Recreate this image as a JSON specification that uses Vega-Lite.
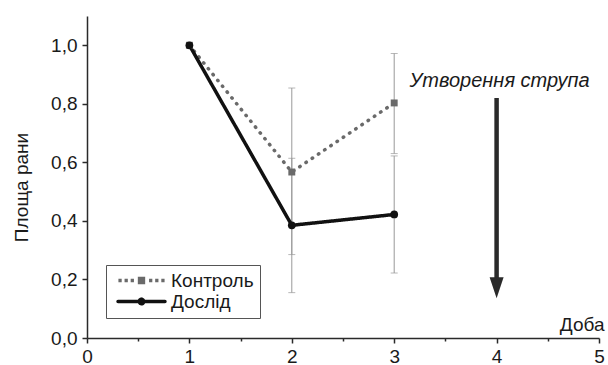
{
  "$schema": "https://vega.github.io/schema/vega-lite/v6.json",
  "width": 512,
  "height": 322,
  "autosize": {"type": "none"},
  "padding": {"left": 87, "top": 16, "right": 9, "bottom": 27},
  "background": "white",
  "config": {
    "view": {"stroke": null},
    "font": "Liberation Sans",
    "axis": {
      "domainColor": "#2a2a2a",
      "domainWidth": 1.5,
      "tickColor": "#2a2a2a",
      "tickWidth": 1.5,
      "labelColor": "#1a1a1a",
      "labelFont": "Liberation Sans",
      "labelFontSize": 19,
      "titleFont": "Liberation Sans",
      "titleFontSize": 19,
      "titleFontWeight": "normal",
      "titleColor": "#1a1a1a",
      "grid": false
    }
  },
  "datasets": {
    "series": [
      {"day": 1, "group": "Контроль", "area": 1.0, "lo": null, "hi": null},
      {"day": 2, "group": "Контроль", "area": 0.567, "lo": 0.285, "hi": 0.854},
      {"day": 3, "group": "Контроль", "area": 0.803, "lo": 0.63, "hi": 0.972},
      {"day": 1, "group": "Дослід", "area": 1.0, "lo": null, "hi": null},
      {"day": 2, "group": "Дослід", "area": 0.385, "lo": 0.155, "hi": 0.614},
      {"day": 3, "group": "Дослід", "area": 0.422, "lo": 0.222, "hi": 0.622}
    ],
    "arrow": [{"day": 4, "top": 0.82, "bottom": 0.2, "head": 0.172, "label": "Утворення струпа", "labelY": 0.857}]
  },
  "layer": [
    {
      "data": {"name": "series"},
      "transform": [{"filter": "datum.lo != null"}],
      "mark": {"type": "errorbar", "color": "#999999", "thickness": 1, "ticks": {"size": 7, "color": "#999999", "thickness": 1}},
      "encoding": {
        "x": {"field": "day", "type": "quantitative", "title": "Доба"},
        "y": {"field": "lo", "type": "quantitative", "title": "Площа рани"},
        "y2": {"field": "hi"}
      }
    },
    {
      "data": {"name": "series"},
      "mark": {"type": "line", "strokeWidth": 3.5, "strokeCap": "round"},
      "encoding": {
        "x": {
          "field": "day", "type": "quantitative", "title": "Доба",
          "scale": {"domain": [0, 5], "nice": false, "zero": false},
          "axis": {
            "values": [0, 0.5, 1, 1.5, 2, 2.5, 3, 3.5, 4, 4.5, 5],
            "labelExpr": "datum.value % 1 == 0 ? format(datum.value, 'd') : ''",
            "tickSize": {"condition": {"test": "datum.value % 1 != 0", "value": 3}, "value": 5},
            "labelPadding": 4,
            "labelFlush": false,
            "labelOverlap": false,
            "titleX": 517,
            "titleY": -8,
            "titleAlign": "right",
            "titleAnchor": null,
            "titleBaseline": "alphabetic"
          }
        },
        "y": {
          "field": "area", "type": "quantitative", "title": "Площа рани",
          "scale": {"domain": [0, 1.1], "nice": false},
          "axis": {
            "values": [0, 0.1, 0.2, 0.3, 0.4, 0.5, 0.6, 0.7, 0.8, 0.9, 1.0, 1.1],
            "labelExpr": "round(datum.value*10) % 2 == 0 ? replace(format(datum.value, '.1f'), '.', ',') : ''",
            "tickSize": {"condition": {"test": "round(datum.value*10) % 2 == 1", "value": 3}, "value": 5},
            "labelPadding": 5,
            "labelOverlap": false,
            "labelFlush": false,
            "titleX": -66,
            "titleY": 171,
            "titleAlign": "center",
            "titleAnchor": null,
            "titleBaseline": "middle"
          }
        },
        "color": {
          "field": "group", "type": "nominal",
          "scale": {"domain": ["Контроль", "Дослід"], "range": ["#6a6a6a", "#111111"]},
          "legend": {
            "title": null,
            "orient": "none",
            "legendX": 19,
            "legendY": 249,
            "padding": 6,
            "strokeColor": "#555555",
            "fillColor": "white",
            "symbolSize": 417,
            "symbolOffset": 20,
            "labelOffset": 20,
            "rowPadding": 1,
            "labelFont": "Liberation Sans",
            "labelFontSize": 19,
            "labelColor": "#1a1a1a",
            "symbolStrokeWidth": 3.5,
            "encode": {
              "symbols": {
                "update": {
                  "shape": {"signal": "datum.value === 'Контроль' ? 'M-2.26,-0.16h0.32v0.32h-0.32ZM-1.66,-0.16h0.32v0.32h-0.32ZM-1.06,-0.16h0.32v0.32h-0.32ZM0.74,-0.16h0.32v0.32h-0.32ZM1.34,-0.16h0.32v0.32h-0.32ZM1.94,-0.16h0.32v0.32h-0.32ZM-0.36,-0.36h0.72v0.72h-0.72Z' : 'M-2.3,0H2.3M0.22,0A0.22,0.22,0,1,1,-0.22,0A0.22,0.22,0,1,1,0.22,0Z'"},
                  "size": {"value": 417},
                  "fill": {"signal": "datum.value === 'Контроль' ? '#6a6a6a' : '#111111'"},
                  "stroke": {"signal": "datum.value === 'Контроль' ? '#6a6a6a' : '#111111'"},
                  "strokeDash": {"signal": "[1, 0]"},
                  "strokeCap": {"value": "round"},
                  "strokeWidth": {"signal": "datum.value === 'Контроль' ? 0 : 3.5"},
                  "opacity": {"value": 1}
                }
              }
            }
          }
        },
        "strokeDash": {
          "field": "group", "type": "nominal",
          "scale": {"domain": ["Контроль", "Дослід"], "range": [[0.5, 7], [1, 0]]}
        }
      }
    },
    {
      "data": {"name": "series"},
      "transform": [{"filter": "datum.group === 'Контроль'"}],
      "mark": {"type": "point", "filled": true, "opacity": 1, "size": 48, "shape": "square"},
      "encoding": {
        "x": {"field": "day", "type": "quantitative", "title": "Доба"},
        "y": {"field": "area", "type": "quantitative", "title": "Площа рани"},
        "color": {"field": "group", "type": "nominal"}
      }
    },
    {
      "data": {"name": "series"},
      "transform": [{"filter": "datum.group === 'Дослід'"}],
      "mark": {"type": "point", "filled": true, "opacity": 1, "size": 60, "shape": "circle"},
      "encoding": {
        "x": {"field": "day", "type": "quantitative", "title": "Доба"},
        "y": {"field": "area", "type": "quantitative", "title": "Площа рани"},
        "color": {"field": "group", "type": "nominal"}
      }
    },
    {
      "data": {"name": "arrow"},
      "mark": {"type": "rule", "color": "#2a2a2a", "strokeWidth": 4.5},
      "encoding": {
        "x": {"field": "day", "type": "quantitative"},
        "y": {"field": "top", "type": "quantitative"},
        "y2": {"field": "bottom"}
      }
    },
    {
      "data": {"name": "arrow"},
      "mark": {"type": "point", "filled": true, "opacity": 1, "color": "#2a2a2a", "shape": "M-1,-1.5L1,-1.5L0,1.5Z", "size": 196},
      "encoding": {
        "x": {"field": "day", "type": "quantitative"},
        "y": {"field": "head", "type": "quantitative"}
      }
    },
    {
      "data": {"name": "arrow"},
      "mark": {"type": "text", "font": "Liberation Sans", "fontSize": 20, "fontStyle": "italic", "color": "#1a1a1a", "align": "center", "baseline": "alphabetic", "dx": 3},
      "encoding": {
        "x": {"field": "day", "type": "quantitative"},
        "y": {"field": "labelY", "type": "quantitative"},
        "text": {"field": "label"}
      }
    }
  ]
}
